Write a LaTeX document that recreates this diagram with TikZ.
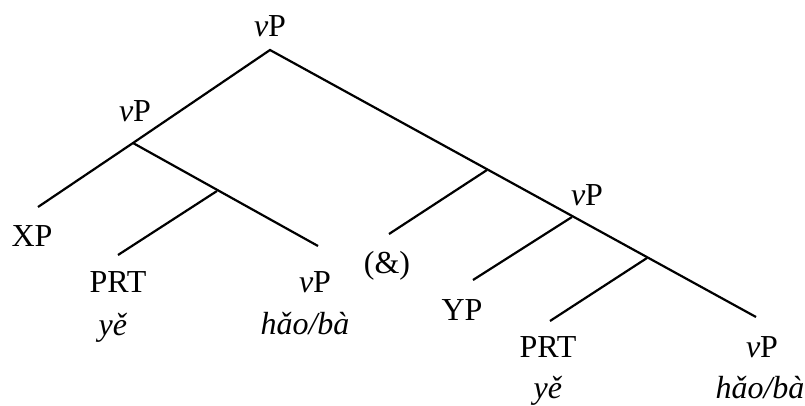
\documentclass[tikz,border=0pt]{standalone}
\usepackage{fontspec}
\setmainfont{Liberation Serif}
\begin{document}
\begin{tikzpicture}[x=1pt,y=-1pt,
  lbl/.style={anchor=base,inner sep=0pt,font=\fontsize{32}{38}\selectfont},
  edge/.style={line width=2.2pt,black}]
\useasboundingbox (0,0) rectangle (805,406);
% junctions and leaf tops
\coordinate (A) at (270,50);
\coordinate (L) at (133,143);
\coordinate (xpt) at (38,207);
\coordinate (J1) at (217,191);
\coordinate (prtat) at (118,255);
\coordinate (vpat) at (318,246);
\coordinate (R1) at (487,170);
\coordinate (ampt) at (389,234);
\coordinate (R2) at (572,217);
\coordinate (ypt) at (473,280);
\coordinate (R3) at (647,258);
\coordinate (prtbt) at (550,321);
\coordinate (vpbt) at (756,317);
% labels
\node[lbl] (top) at (270,37) {\textit{v}P};
\node[lbl] (lvp) at (135,122) {\textit{v}P};
\node[lbl] (xp) at (32,246) {XP};
\node[lbl] (prta) at (118,292) {PRT};
\node[lbl] (yea) at (113,335) {\textit{yě}};
\node[lbl] (vpa) at (315,292) {\textit{v}P};
\node[lbl] (haoa) at (305,334) {\textit{hǎo/bà}};
\node[lbl] (amp) at (387,273) {(\&)};
\node[lbl] (rvp) at (587,205) {\textit{v}P};
\node[lbl] (yp) at (462,320) {YP};
\node[lbl] (prtb) at (548,357) {PRT};
\node[lbl] (yeb) at (548,398) {\textit{yě}};
\node[lbl] (vpb) at (762,357) {\textit{v}P};
\node[lbl] (haob) at (760,398) {\textit{hǎo/bà}};
% branches
\draw[edge] (xpt) -- (L) -- (A) -- (vpbt);
\draw[edge] (L) -- (vpat);
\draw[edge] (J1) -- (prtat);
\draw[edge] (R1) -- (ampt);
\draw[edge] (R2) -- (ypt);
\draw[edge] (R3) -- (prtbt);
\end{tikzpicture}
\end{document}
